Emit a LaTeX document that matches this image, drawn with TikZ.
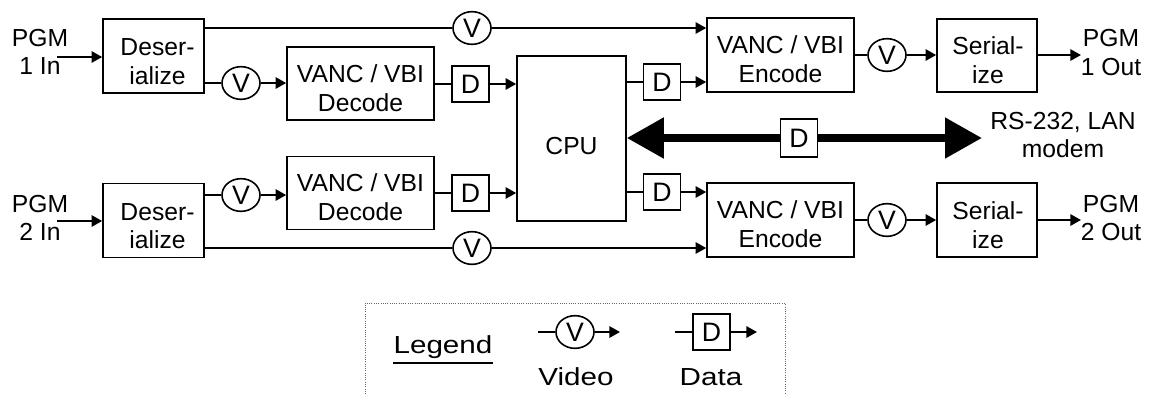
\documentclass[tikz,border=0pt]{standalone}
\usepackage{fontspec}
\setmainfont{Liberation Sans}
\usetikzlibrary{arrows.meta,shapes.geometric,calc}
\tikzset{bigtip/.tip={Triangle[length=27.75pt,width=29.25pt]}}
\begin{document}
\begin{tikzpicture}[x=0.75pt,y=-0.75pt,
  font=\fontsize{18.5}{21.5}\selectfont,
  blk/.style={draw, line width=1.2pt, inner sep=0pt},
  vnode/.style={draw, ellipse, line width=1.2pt, minimum width=28.5pt, minimum height=24.5pt, inner sep=0pt, fill=white, font=\fontsize{20}{22}\selectfont},
  dnode/.style={draw, line width=1.2pt, minimum width=27.5pt, minimum height=27pt, inner sep=0pt, fill=white, font=\fontsize{20}{22}\selectfont},
  ln/.style={line width=1.6pt},
  arr/.style={line width=1.6pt, -{Triangle[length=8pt,width=8.5pt]}},
  lbl/.style={align=center, inner sep=0pt},
]
\useasboundingbox (0,0) rectangle (1150,394);

% main blocks
\node[blk, minimum width=75.75pt, minimum height=55.5pt] (des1) at (153.5,56) {};
\node[blk, minimum width=75.75pt, minimum height=55.5pt] (des2) at (153.5,220.5) {};
\node[blk, minimum width=110.25pt, minimum height=54.75pt] (dec1) at (360.5,83.5) {};
\node[blk, minimum width=110.25pt, minimum height=54.75pt] (dec2) at (360.5,193) {};
\node[blk, minimum width=81.75pt, minimum height=123.75pt] (cpu) at (571.5,138.5) {};
\node[blk, minimum width=110.25pt, minimum height=55.5pt] (enc1) at (780.5,55) {};
\node[blk, minimum width=110.25pt, minimum height=55.5pt] (enc2) at (780.5,220) {};
\node[blk, minimum width=75pt, minimum height=54.75pt] (ser1) at (987,55.5) {};
\node[blk, minimum width=75pt, minimum height=55.5pt] (ser2) at (987,220) {};

% block texts
\node[lbl] (des1t) at ($(des1)+(4,5.5)$) {Deser-\\ialize};
\node[lbl] (des2t) at ($(des2)+(4,5.5)$) {Deser-\\ialize};
\node[lbl] (dec1t) at ($(dec1)+(0,4.5)$) {VANC / VBI\\Decode};
\node[lbl] (dec2t) at ($(dec2)+(0,4.5)$) {VANC / VBI\\Decode};
\node[lbl] (cput) at ($(cpu)+(0,8)$) {CPU};
\node[lbl] (enc1t) at ($(enc1)+(0,4)$) {VANC / VBI\\Encode};
\node[lbl] (enc2t) at ($(enc2)+(0,4)$) {VANC / VBI\\Encode};
\node[lbl] (ser1t) at ($(ser1)+(1,5)$) {Serial-\\ize};
\node[lbl] (ser2t) at ($(ser2)+(1,5)$) {Serial-\\ize};

% V and D markers
\node[vnode] (vt) at (472,28) {V};
\node[vnode] (v1) at (241,83) {V};
\node[vnode] (v2) at (241,195) {V};
\node[vnode] (vb) at (472,248) {V};
\node[vnode] (vo1) at (887,55) {V};
\node[vnode] (vo2) at (887,220) {V};
\node[dnode] (d1) at (470.5,84) {D};
\node[dnode] (d2) at (470.5,193) {D};
\node[dnode] (do1) at (662,82) {D};
\node[dnode] (do2) at (662,192) {D};
\node[dnode, minimum height=28.5pt] (dm) at (799,138) {D};

% input / output labels
\node[lbl] (in1) at (40,52) {PGM\\1 In};
\node[lbl] (in2) at (40,218) {PGM\\2 In};
\node[lbl] (out1) at (1111,52.5) {PGM\\1 Out};
\node[lbl] (out2) at (1111,218) {PGM\\2 Out};
\node[lbl] (rs) at (1063,135) {RS-232, LAN\\modem};
\coordinate (in1a) at (57,57);
\coordinate (in2a) at (57,221);
\coordinate (out1a) at (1081,55);
\coordinate (out2a) at (1081,220);
\coordinate (rsend) at (982,138);

% path 1
\draw[arr] (in1a) -- (in1a -| des1.west);
\draw[ln] (des1.east |- vt) -- (vt);
\draw[arr] (vt) -- (vt -| enc1.west);
\draw[ln] (des1.east |- v1) -- (v1);
\draw[arr] (v1) -- (v1 -| dec1.west);
\draw[ln] (dec1.east |- d1) -- (d1);
\draw[arr] (d1) -- (d1 -| cpu.west);
\draw[ln] (cpu.east |- do1) -- (do1);
\draw[arr] (do1) -- (do1 -| enc1.west);
\draw[ln] (enc1.east |- vo1) -- (vo1);
\draw[arr] (vo1) -- (vo1 -| ser1.west);
\draw[arr] (ser1.east |- out1a) -- (out1a);

% path 2
\draw[arr] (in2a) -- (in2a -| des2.west);
\draw[ln] (des2.east |- vb) -- (vb);
\draw[arr] (vb) -- (vb -| enc2.west);
\draw[ln] (des2.east |- v2) -- (v2);
\draw[arr] (v2) -- (v2 -| dec2.west);
\draw[ln] (dec2.east |- d2) -- (d2);
\draw[arr] (d2) -- (d2 -| cpu.west);
\draw[ln] (cpu.east |- do2) -- (do2);
\draw[arr] (do2) -- (do2 -| enc2.west);
\draw[ln] (enc2.east |- vo2) -- (vo2);
\draw[arr] (vo2) -- (vo2 -| ser2.west);
\draw[arr] (ser2.east |- out2a) -- (out2a);

% bidirectional link
\draw[line width=6pt, {bigtip}-] (cpu.east |- dm) -- (dm.west);
\draw[line width=6pt, -{bigtip}] (dm.east) -- (rsend);

% legend
\draw[densely dotted, line width=0.7pt, black!60] (365,394) -- (365,303) -- (785,303) -- (785,394);
\node[lbl] (leg) at (443,347) {\scalebox{1.2}[1]{Legend}};
\draw[line width=1.6pt] ($(leg.south west)+(0,4)$) -- ($(leg.south east)+(0,4)$);
\coordinate (lv0) at (538,332);
\node[vnode] (lv) at (575,332) {V};
\coordinate (lv1) at (620,332);
\node[lbl] (lvt) at (576,377) {\scalebox{1.2}[1]{Video}};
\coordinate (ld0) at (675,332);
\node[dnode] (ld) at (711.5,332) {D};
\coordinate (ld1) at (757,332);
\node[lbl] (ldt) at (711,377) {\scalebox{1.2}[1]{Data}};
\draw[ln] (lv0) -- (lv);
\draw[arr] (lv) -- (lv1);
\draw[ln] (ld0) -- (ld);
\draw[arr] (ld) -- (ld1);
\end{tikzpicture}
\end{document}
